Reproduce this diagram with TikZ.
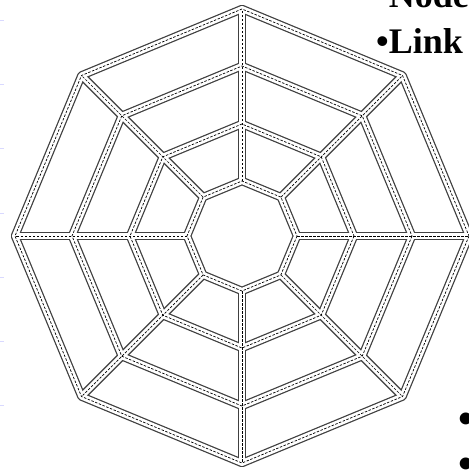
\documentclass[tikz,border=0pt]{standalone}
\usepackage{fontspec}
\setmainfont{Liberation Serif}
\tikzset{
  road edge/.style={line width=8.5pt, draw=black!75, line join=round},
  road fill/.style={line width=6pt, draw=white, line join=round},
  road mark/.style={line width=0.7pt, draw=black, dash pattern=on 2.5pt off 1.5pt, line join=round},
  item text/.style={font=\fontsize{36}{44}\selectfont\bfseries, inner sep=0pt}
}
% one layer of the web: rings and spokes
\newcommand{\weblayer}[1]{%
  \foreach \r in {227,170,112,55}
    \draw[#1] (0:\r) -- (45:\r) -- (90:\r) -- (135:\r) -- (180:\r) -- (225:\r) -- (270:\r) -- (315:\r) -- cycle;
  \foreach \a in {0,45,...,315}
    \draw[#1] (\a:55) -- (\a:227);
}
\begin{document}
\begin{tikzpicture}[x=1pt,y=-1pt]
\useasboundingbox (0,0) rectangle (469,472);
\clip (0,0) rectangle (469,472);

% Marks at the left edge
\foreach \y in {20,84.3,...,470}
  \draw[blue!15, line width=0.8pt] (0,\y) -- (4,\y);

% Web
\begin{scope}[shift={(242,236)}]
\weblayer{road edge}
\weblayer{road fill}
\weblayer{road mark}
\end{scope}

% Bullets
\node[item text, anchor=base west] (node item) at (376,7) {•Node};
\node[item text, anchor=base west] (link item) at (376,53) {•Link};
\node[item text, font=\fontsize{44}{44}\selectfont\bfseries, anchor=west] (item a) at (458,423) {•};
\node[item text, font=\fontsize{44}{44}\selectfont\bfseries, anchor=west] (item b) at (458,468) {•};
\end{tikzpicture}
\end{document}
